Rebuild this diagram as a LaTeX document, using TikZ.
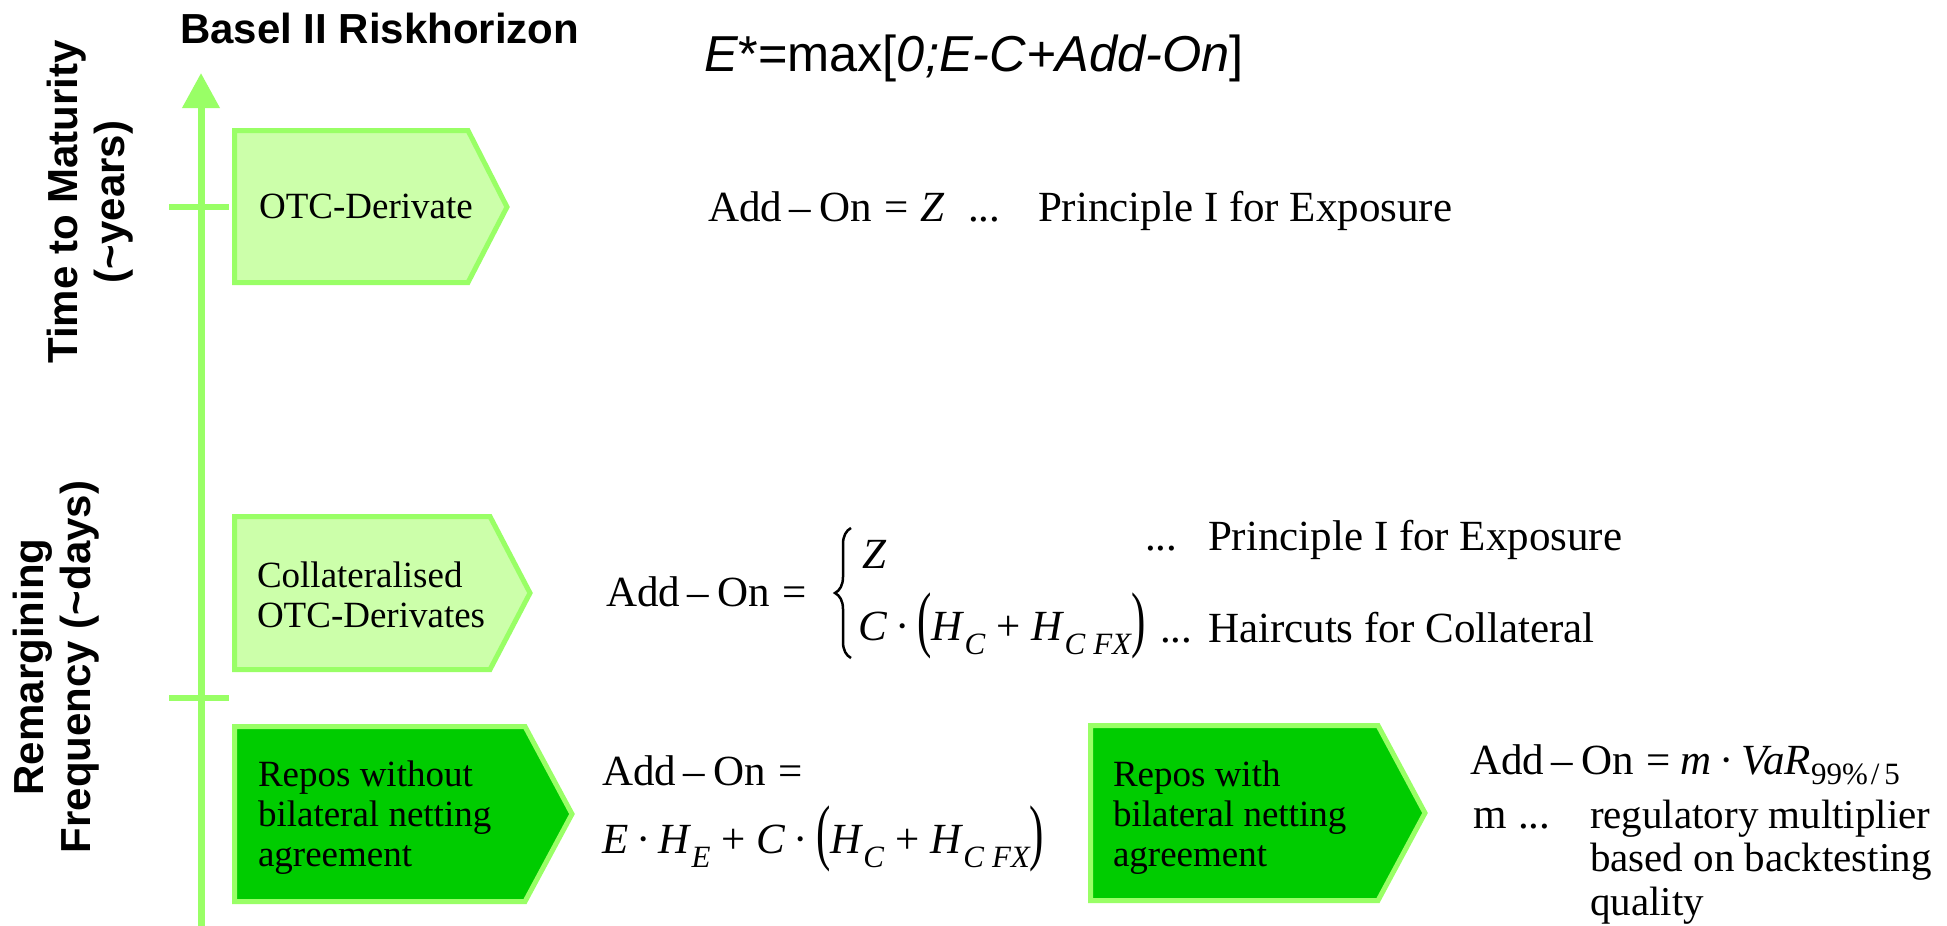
\documentclass[tikz,border=0pt]{standalone}
\usepackage{fontspec}
\setmainfont{Liberation Serif}
\setsansfont{Liberation Sans}
\usepackage{graphicx}
\usetikzlibrary{arrows.meta,decorations.pathreplacing}
\definecolor{edgegreen}{HTML}{99FF66}
\definecolor{lightfill}{HTML}{CCFFAA}
\definecolor{darkfill}{HTML}{00CC00}
\newcommand\fm{\fontsize{43}{43.5}\selectfont}
\newcommand\fmr{\fontsize{41}{43.5}\selectfont}
\newcommand\bx{\fontsize{37}{40}\selectfont}
\newcommand\lab{\sffamily\bfseries\fontsize{42}{47}\selectfont}
\newcommand\sbs[1]{\raisebox{-14pt}{\fontsize{31}{31}\selectfont\itshape #1}}
\newcommand\bigparen[1]{\raisebox{-3pt}{\scalebox{1}[1.7]{#1}}}
\newcommand\mdot{\kern8pt·\kern8pt}
\newcommand\AddOn{Add\kern7pt–\kern9pt On\kern12pt=}
\newcommand\plusop{\kern11pt+\kern11pt}
\begin{document}
\begin{tikzpicture}[x=1pt,y=-1pt,
  box/.style={draw=edgegreen, line width=5pt, line join=miter},
  lightbox/.style={box, fill=lightfill},
  darkbox/.style={box, fill=darkfill},
  axisline/.style={draw=edgegreen, line width=7pt},
  tickline/.style={draw=edgegreen, line width=6pt},
  txt/.style={inner sep=0pt, outer sep=0pt, anchor=base west, font=\fm},
  boxtxt/.style={inner sep=0pt, outer sep=0pt, anchor=base west, font=\bx},
  sidelab/.style={inner sep=0pt, outer sep=0pt, anchor=base, rotate=90, font=\lab},
]
\fill[white] (0,0) rectangle (1947,926);
\useasboundingbox (0,0) rectangle (1947,926);

% title and top formula
\node[inner sep=0pt, anchor=base west, font=\sffamily\bfseries\fontsize{42}{47}\selectfont] (title) at (180,43) {Basel II Riskhorizon};
\node[inner sep=0pt, anchor=base west, font=\sffamily\fontsize{50.5}{55}\selectfont] (estar) at (704,71) {\textit{E}*=max[\textit{0;E-C+Add-On}]};

% side labels
\node[sidelab] (maturity) at (77,202) {\begin{tabular}[t]{@{}c@{}}Time to Maturity\\(\textasciitilde years)\end{tabular}};
\node[sidelab] (remargin) at (43,667) {\begin{tabular}[t]{@{}c@{}}Remargining\\Frequency (\textasciitilde days)\end{tabular}};

% axis
\coordinate (axbot) at (201,926);
\coordinate (axtop) at (201,73);
\draw[axisline, -{Triangle[length=35pt,width=36pt]}] (axbot) -- (axtop);
\coordinate (tkal) at (169,207); \coordinate (tkar) at (229,207);
\coordinate (tkbl) at (169,698); \coordinate (tkbr) at (229,698);
\draw[tickline] (tkal) -- (tkar);
\draw[tickline] (tkbl) -- (tkbr);

% boxes
\draw[lightbox] (234.5,130.5) -- (468,130.5) -- (507,207) -- (468,282.5) -- (234.5,282.5) -- cycle;
\draw[lightbox] (234.5,516.5) -- (490,516.5) -- (530,593) -- (490,669.5) -- (234.5,669.5) -- cycle;
\draw[darkbox] (234.5,726.5) -- (525,726.5) -- (572,814) -- (525,901.5) -- (234.5,901.5) -- cycle;
\draw[darkbox] (1090.5,725.5) -- (1378,725.5) -- (1425,813) -- (1378,900.5) -- (1090.5,900.5) -- cycle;

\node[inner sep=0pt, anchor=base, font=\bx] (otc) at (366,218) {OTC-Derivate};
\node[boxtxt] (coll) at (257,587) {\begin{tabular}[t]{@{}l@{}}Collateralised\\OTC-Derivates\end{tabular}};
\node[boxtxt] (repowo) at (258,786) {\begin{tabular}[t]{@{}l@{}}Repos without\\bilateral netting\\agreement\end{tabular}};
\node[boxtxt] (repow) at (1113,786) {\begin{tabular}[t]{@{}l@{}}Repos with\\bilateral netting\\agreement\end{tabular}};

% row 1 formula
\node[txt] (f1) at (708,221) {\AddOn\kern12pt\textit{Z}};
\node[txt] (f1dots) at (968,221) {...};
\node[txt] (f1txt) at (1038,221) {Principle I for Exposure};

% collateral formula
\node[txt] (f2) at (606,606) {\AddOn};
\coordinate (brb) at (851,658);
\coordinate (brt) at (851,528);
\draw[decorate, decoration={brace, amplitude=16pt, aspect=0.5}, line width=2.5pt] (brb) -- (brt);
\node[txt] (f2z) at (862,568) {\textit{Z}};
\node[txt] (f2c) at (858,640) {\textit{C}\mdot\bigparen{(}\textit{H}\sbs{C}\plusop\textit{H}\sbs{C\kern8pt FX}\bigparen{)}};
\node[txt] (f2dotsa) at (1145,550) {...};
\node[txt] (f2txta) at (1208,550) {Principle I for Exposure};
\node[txt] (f2dotsb) at (1160,642) {...};
\node[txt] (f2txtb) at (1208,642) {Haircuts for Collateral};

% repos without formula
\node[txt] (f3) at (602,785) {\AddOn};
\node[txt] (f3b) at (602,853) {\textit{E}\mdot\textit{H}\sbs{E}\plusop\textit{C}\mdot\bigparen{(}\textit{H}\sbs{C}\plusop\textit{H}\sbs{C\kern8pt FX}\bigparen{)}};

% repos with formula
\node[txt] (f4) at (1470,774) {\AddOn\kern10pt\textit{m}\mdot\textit{VaR}\raisebox{-10pt}{\fontsize{31}{31}\selectfont 99\%\kern3pt/\kern5pt5}};
\node[txt] (f4m) at (1473,828) {m};
\node[txt] (f4dots) at (1518,828) {...};
\node[inner sep=0pt, outer sep=0pt, anchor=base west, font=\fmr] (f4txt) at (1590,828) {\begin{tabular}[t]{@{}l@{}}regulatory multiplier\\based on backtesting\\quality\end{tabular}};
\end{tikzpicture}
\end{document}
